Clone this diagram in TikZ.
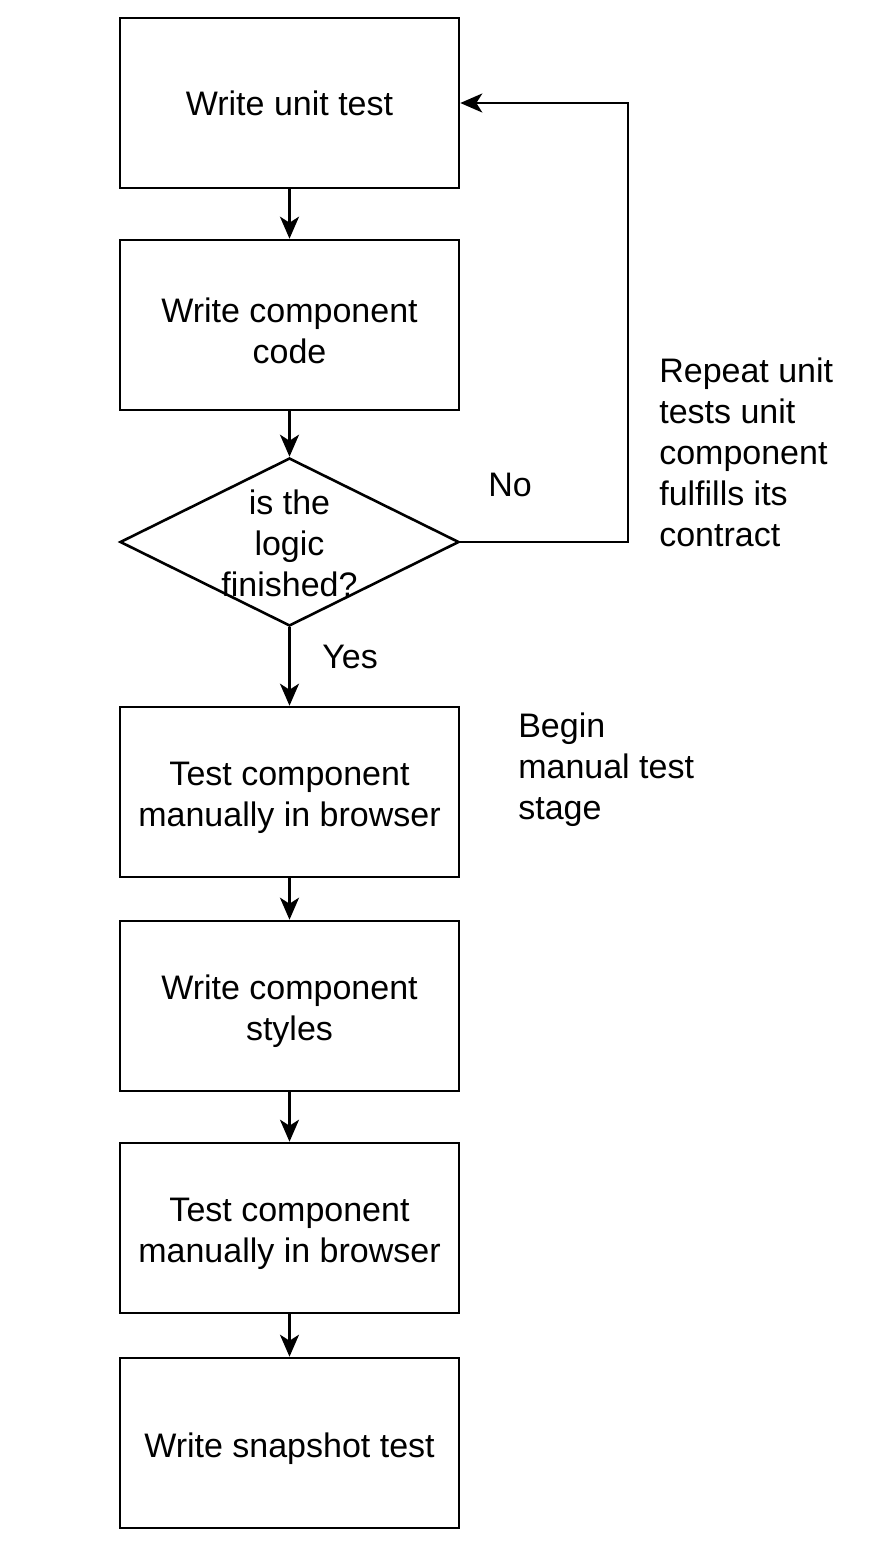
\documentclass[tikz,border=0pt]{standalone}
\usepackage{fontspec}
\setmainfont{Liberation Sans}
\usetikzlibrary{shapes.geometric,arrows.meta}
\newcommand{\tpad}{\rule{0pt}{18pt}}
\begin{document}
\begin{tikzpicture}[x=0.5pt, y=-0.5pt, >={Stealth[length=11pt,width=9.5pt,inset=3pt]}, line width=1.3pt,
	every node/.style={font=\fontsize{17}{20.5}\selectfont, align=center},
	stepbox/.style={draw, rectangle, minimum width=169.5pt, minimum height=85pt, inner sep=0pt},
	decision/.style={draw, diamond, minimum width=169.5pt, minimum height=84pt, inner sep=0pt},
	note/.style={align=left, anchor=west, inner sep=0pt}]
	\useasboundingbox (0,0) rectangle (892,1558);
	% 1. 流程框
	\node[stepbox] (unit) at (289.5, 103) {Write unit test};
	\node[stepbox] (code) at (289.5, 325) {\tpad Write component\\code};
	\node[decision] (logic) at (289.5, 542) {};
	\node (logictxt) at (289.5, 543) {is the\\logic\\finished?};
	\node[stepbox] (manual) at (289.5, 792) {\tpad Test component\\manually in browser};
	\node[stepbox] (styles) at (289.5, 1006) {\tpad Write component\\styles};
	\node[stepbox] (manual2) at (289.5, 1228) {\tpad Test component\\manually in browser};
	\node[stepbox] (snap) at (289.5, 1443) {\tpad Write snapshot test};
	
	% 2. 箭头
	\draw[->] (unit) -- (code);
	\draw[->] (code) -- (logic);
	\draw[->] (logic) -- (manual);
	\draw[->] (manual) -- (styles);
	\draw[->] (styles) -- (manual2);
	\draw[->] (manual2) -- (snap);
	\draw[->] (logic.east) -- (628, 542) -- (628, 103) -- (unit.east);
	
	% 3. 标注
	\node (no) at (510, 485) {No};
	\node (yes) at (350, 657) {Yes};
	\node[note] (repeat) at (658, 452) {Repeat unit\\tests unit\\component\\fulfills its\\contract};
	\node[note] (begin) at (517, 770) {Begin\\manual test\\stage};
\end{tikzpicture}
\end{document}
